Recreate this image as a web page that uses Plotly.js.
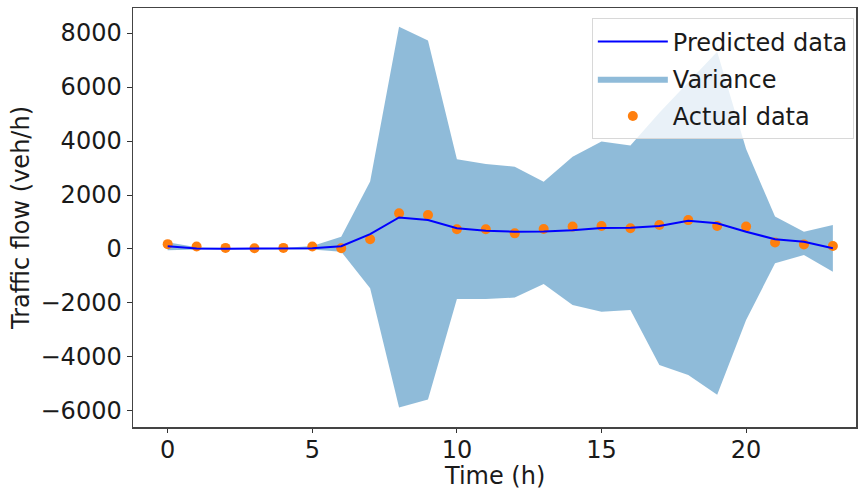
<!DOCTYPE html>
<html>
<head>
<meta charset="utf-8">
<script src="https://cdn.plot.ly/plotly-3.0.1.min.js"></script>
<style>html,body{margin:0;padding:0;background:#fff;}#chart{width:859px;height:495px;}</style>
</head>
<body>
<div id="chart"></div>
<script>
const hours = [0,1,2,3,4,5,6,7,8,9,10,11,12,13,14,15,16,17,18,19,20,21,22,23];
const predicted = [100,20,10,10,10,30,100,550,1170,1070,770,680,640,650,690,780,790,850,1050,950,640,360,270,30];
const actual = [180,90,40,30,40,90,30,360,1320,1260,730,730,580,740,830,850,770,890,1070,850,830,240,170,110];
const upperBound = [250,60,40,40,40,110,450,2500,8230,7720,3320,3150,3050,2490,3420,3980,3830,5050,6200,7310,3700,1200,640,890];
const lowerBound = [-50,-20,-20,-20,-20,-20,-100,-1450,-5870,-5570,-1850,-1850,-1800,-1300,-2070,-2320,-2260,-4300,-4670,-5400,-2630,-530,-220,-840];
const xTicks = [0,5,10,15,20];
const yTicks = [-6000,-4000,-2000,0,2000,4000,6000,8000];

const font = {family: 'DejaVu Sans, sans-serif', size: 24, color: '#1a1a1a'};

const traces = [
  {x: hours, y: lowerBound, type: 'scatter', mode: 'lines', line: {width: 0, color: 'rgba(0,0,0,0)'},
   showlegend: false, hoverinfo: 'skip', legendgroup: 'v'},
  {x: hours, y: upperBound, type: 'scatter', mode: 'lines', fill: 'tonexty',
   fillcolor: 'rgba(31,119,180,0.5)', line: {width: 0, color: 'rgba(31,119,180,0.5)'},
   name: 'Variance', legendrank: 2, legendgroup: 'v'},
  {x: hours, y: actual, type: 'scatter', mode: 'markers',
   marker: {color: '#ff7f0e', size: 10}, name: 'Actual data', legendrank: 3, legendgroup: 'a'},
  {x: hours, y: predicted, type: 'scatter', mode: 'lines',
   line: {color: '#0000ff', width: 2}, name: 'Predicted data', legendrank: 1, legendgroup: 'p'}
];

const layout = {
  width: 859, height: 495,
  margin: {l: 133, r: 3, t: 8, b: 68},
  paper_bgcolor: '#fff', plot_bgcolor: '#fff',
  font: font,
  showlegend: true,
  legend: {x: 0.997, xanchor: 'right', y: 0.975, yanchor: 'top',
           bgcolor: 'rgba(255,255,255,0.8)', bordercolor: '#d8d8d8', borderwidth: 1,
           font: font, traceorder: 'grouped', tracegroupgap: 3, itemwidth: 70},
  xaxis: {range: [-1.2, 23.8], tickvals: xTicks, ticks: 'outside', ticklen: 4, tickcolor: '#333',
          ticklabelstandoff: -3,
          showgrid: false, zeroline: false, showline: true, mirror: true, linecolor: '#444', linewidth: 1.5,
          tickfont: font},
  yaxis: {range: [-6593, 8926], tickvals: yTicks, ticktext: yTicks.map(v => v < 0 ? '\u2212' + Math.abs(v) : String(v)),
          ticks: 'outside', ticklen: 5, tickcolor: '#333',
          showgrid: false, zeroline: false, showline: true, mirror: true, linecolor: '#444', linewidth: 1.5,
          title: {text: 'Traffic flow (veh/h)', font: font, standoff: 4}, tickfont: font},
  annotations: [{text: 'Time (h)', xref: 'paper', yref: 'paper', x: 0.5, y: -0.117,
                 xanchor: 'center', yanchor: 'middle', showarrow: false, font: font}]
};

Plotly.newPlot('chart', traces, layout, {displayModeBar: false, staticPlot: true});
</script>
</body>
</html>
